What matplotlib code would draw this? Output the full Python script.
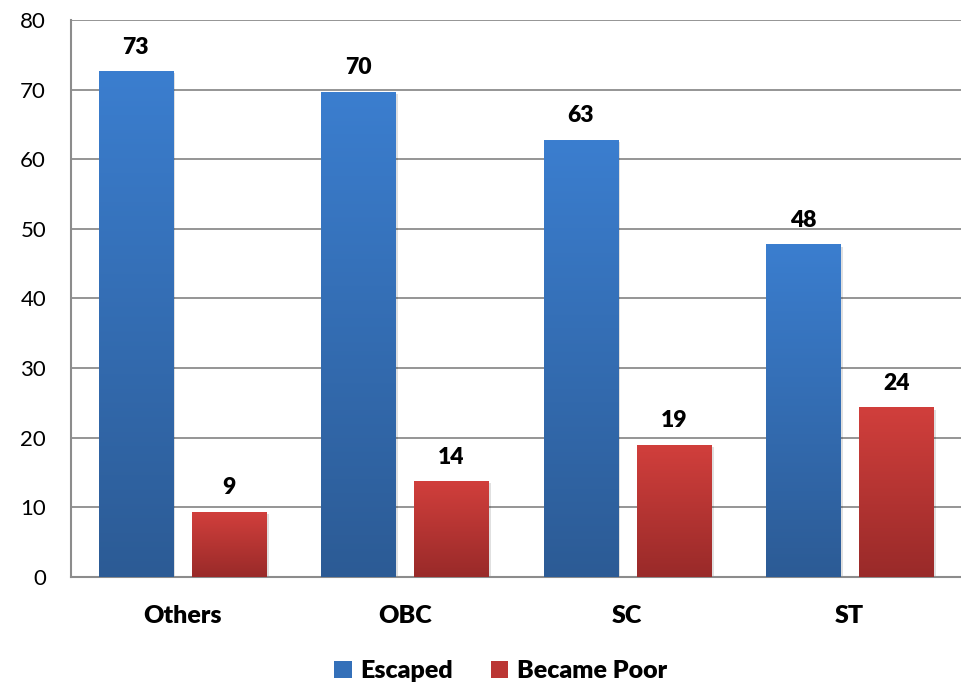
import matplotlib
matplotlib.use("Agg")
import matplotlib.pyplot as plt
import numpy as np
from matplotlib.colors import LinearSegmentedColormap
from matplotlib.patches import Patch

categories = ["Others", "OBC", "SC", "ST"]
escaped = [72.6, 69.6, 62.7, 47.7]
became_poor = [9.3, 13.7, 18.9, 24.3]
escaped_labels = ["73", "70", "63", "48"]
poor_labels = ["9", "14", "19", "24"]
yticks = [0, 10, 20, 30, 40, 50, 60, 70, 80]

plt.rcParams['font.family'] = ['Lato', 'DejaVu Sans']

fig = plt.figure(figsize=(9.61, 6.88), dpi=100)
ax = fig.add_axes([0.074, 0.1613, 0.926, 0.8097])

x = np.arange(len(categories))
w = 0.333
off = 0.21

blue_cmap = LinearSegmentedColormap.from_list("b", ["#2c5b95", "#3b7ecf"])
red_cmap = LinearSegmentedColormap.from_list("r", ["#992a29", "#d13f3c"])

grad = np.linspace(0, 1, 256).reshape(-1, 1)

def grad_bars(xs, vals, cmap):
    bars = ax.bar(xs, vals, width=w, color="none", edgecolor="none", zorder=3)
    for b in bars:
        x0, y0 = b.get_x(), b.get_y()
        x1, y1 = x0 + b.get_width(), y0 + b.get_height()
        ax.bar(x0 + b.get_width() / 2 + 0.012, b.get_height(), width=b.get_width(),
               bottom=-0.25, color="#000000", alpha=0.12, zorder=2.5, edgecolor="none")
        ax.imshow(grad, extent=[x0, x1, y0, y1], origin="lower", aspect="auto",
                  cmap=cmap, zorder=3)
    return bars

grad_bars(x - off, escaped, blue_cmap)
grad_bars(x + off, became_poor, red_cmap)

for xi, v, lab in zip(x - off, escaped, escaped_labels):
    ax.text(xi, v + 2.0, lab, ha="center", va="bottom", fontsize=16.5, fontweight="heavy")
for xi, v, lab in zip(x + off, became_poor, poor_labels):
    ax.text(xi, v + 2.0, lab, ha="center", va="bottom", fontsize=16.5, fontweight="heavy")

ax.set_xlim(-0.5, 3.5)
ax.set_ylim(0, 80)
ax.set_yticks(yticks)
ax.set_yticklabels([str(t) for t in yticks], fontsize=16)
ax.set_xticks(x)
ax.set_xticklabels(categories, fontsize=18, fontweight="heavy")
ax.tick_params(axis="both", length=0)
ax.tick_params(axis="y", pad=18)
ax.tick_params(axis="x", pad=20)
ax.grid(axis="y", color="#8c8c8c", linewidth=1.3, zorder=1)
ax.set_axisbelow(True)
for s in ["top", "right"]:
    ax.spines[s].set_visible(False)
ax.spines["left"].set_color("#8c8c8c")
ax.spines["left"].set_linewidth(1.5)
ax.spines["bottom"].set_color("#8c8c8c")
ax.spines["bottom"].set_linewidth(1.5)

handles = [Patch(facecolor="#3470b9", label="Escaped"),
           Patch(facecolor="#bb3634", label="Became Poor")]
fig.legend(handles=handles, loc="center", bbox_to_anchor=(0.521, 0.024), ncol=2,
           frameon=False, prop={"weight": "heavy", "size": 18},
           handlelength=0.7, handleheight=0.7, handletextpad=0.35, columnspacing=1.5)

fig.savefig("out.png", dpi=100)
